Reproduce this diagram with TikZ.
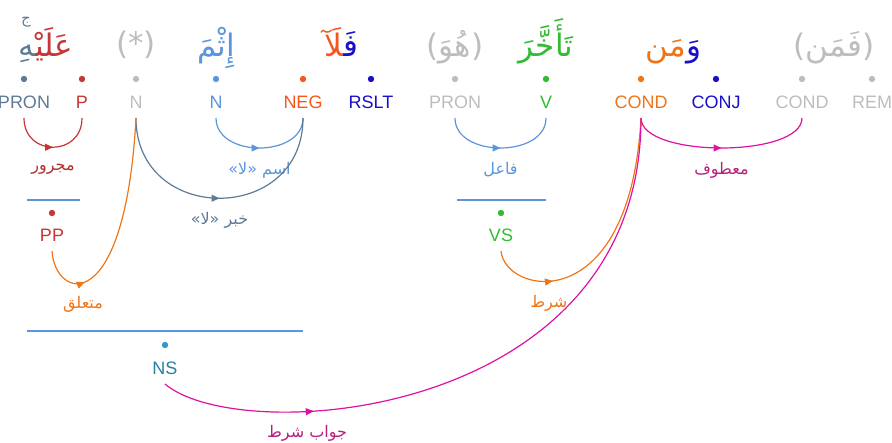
\documentclass[tikz,border=0pt]{standalone}
\usepackage{fontspec}
\setmainfont{Liberation Sans}
\newfontfamily\arabicfont[Script=Arabic]{DejaVu Sans}
\TeXXeTstate=1
\usetikzlibrary{arrows.meta,decorations.markings}
\definecolor{slate}{HTML}{5F7A95}
\definecolor{prep}{HTML}{C83535}
\definecolor{preptext}{HTML}{B03030}
\definecolor{faint}{HTML}{BDBDBD}
\definecolor{noun}{HTML}{5B95DB}
\definecolor{neg}{HTML}{F5561B}
\definecolor{rslt}{HTML}{1A0FC9}
\definecolor{verb}{HTML}{33BB33}
\definecolor{cond}{HTML}{EE7518}
\definecolor{magenta}{HTML}{E010A0}
\definecolor{magtext}{HTML}{B5207E}
\definecolor{nsdot}{HTML}{3399C6}
\definecolor{nstext}{HTML}{2A7FA0}

\newcommand\artxt[1]{{\arabicfont\beginR #1\endR}}

\tikzset{
  tag/.style={font=\fontsize{18}{20}\selectfont, inner sep=0pt, anchor=base,
    text height=13pt, text depth=0pt, outer ysep=10pt},
  word/.style={font=\arabicfont\fontsize{31}{34}\selectfont, inner sep=0pt, anchor=base},
  rel/.style={font=\arabicfont\fontsize{16}{18}\selectfont, inner sep=0pt, pos=0.5, yshift=-22pt},
  dep/.style n args={2}{color=#1, line width=1.2pt, postaction={decorate},
    decoration={markings, mark=at position #2 with {\arrow{Triangle[length=8pt,width=7pt]}}}},
  phrase/.style={draw=noun, line width=1.2pt}
}

\begin{document}
\begin{tikzpicture}[x=1pt,y=-1pt]
  \useasboundingbox (0,0) rectangle (892,442);
  % words
  \node[font=\arabicfont\fontsize{15}{16}\selectfont, text=slate, inner sep=0pt] (waqf) at (26,22) {ج};
  \node[word, anchor=base west, text=prep] (w1r) at (35,56) {\artxt{عَلَيْ^^^^200d}};
  \node[word, anchor=base east, text=slate] (w1l) at (w1r.base west) {\artxt{^^^^200dهِ}};
  \node[word, text=faint] (w2) at (136,54) {(*)};
  \node[word, text=noun] (w3) at (216,56) {\artxt{إِثْمَ}};
  \node[word, anchor=base west, text=rslt] (w4r) at (343,56) {\artxt{فَ^^^^200d}};
  \node[word, anchor=base east, text=neg] (w4l) at (w4r.base west) {\artxt{^^^^200dلَآ}};
  \node[word, text=faint] (w5) at (455,56) {\artxt{(هُوَ)}};
  \node[word, text=verb] (w6) at (546,56) {\artxt{تَأَخَّرَ}};
  \node[word, anchor=base west, text=rslt] (w7r) at (686,56) {\artxt{وَ}};
  \node[word, anchor=base east, text=cond] (w7l) at (w7r.base west) {\artxt{مَن}};
  \node[word, text=faint] (w8) at (834,56) {\artxt{(فَمَن)}};
  % tags
  \foreach \x/\tg/\txt/\col in {24/pron1/PRON/slate, 82/p1/P/prep, 136/n1/N/faint,
      216/n2/N/noun, 303/neg1/NEG/neg, 371/rslt1/RSLT/rslt, 455/pron2/PRON/faint,
      546/v1/V/verb, 641/cond1/COND/cond, 716/conj1/CONJ/rslt, 802/cond2/COND/faint,
      872/rem1/REM/faint}
    {\fill[\col] (\x,79) circle (3.2pt);
     \node[tag, text=\col] (\tg) at (\x,108) {\txt};}
  % phrases
  \draw[phrase] (27,200) -- (80,200);
  \fill[prep] (52,213) circle (3.2pt);
  \node[tag, text=prep] (pp) at (52,241) {PP};
  \draw[phrase] (457,200) -- (546,200);
  \fill[verb] (501,213) circle (3.2pt);
  \node[tag, text=verb] (vs) at (501,241) {VS};
  \draw[phrase] (27,331) -- (303,331);
  \fill[nsdot] (165,345) circle (3.2pt);
  \node[tag, text=nstext] (ns) at (165,374) {NS};
  % dependencies
  \draw[dep={prep}{0.5}] (pron1.south) .. controls +(0,39) and +(0,39) .. (p1.south)
    node[rel, text=preptext] (majrur) {\artxt{مجرور}};
  \draw[dep={noun}{0.5}] (n2.south) .. controls +(0,40) and +(0,40) .. (neg1.south)
    node[rel, text=noun] (ism) {\artxt{اسم «لا»}};
  \draw[dep={slate}{0.5}] (n1.south) .. controls +(0,107) and +(0,107) .. (neg1.south)
    node[rel, text=slate] (khabar) {\artxt{خبر «لا»}};
  \draw[dep={noun}{0.5}] (pron2.south) .. controls +(0,40) and +(0,40) .. (v1.south)
    node[rel, text=noun] (fail) {\artxt{فاعل}};
  \draw[dep={magenta}{0.5}] (cond1.south) .. controls +(0,40) and +(0,40) .. (cond2.south)
    node[rel, text=magtext] (matuf) {\artxt{معطوف}};
  \draw[dep={cond}{0.23}] (pp.south) .. controls +(3,49) and +(-11,202) .. (n1.south)
    node[rel, text=cond, pos=0.43] (mutaalliq) {\artxt{متعلق}};
  \draw[dep={cond}{0.25}] (vs.south) .. controls +(4,44) and +(-11,202) .. (cond1.south)
    node[rel, text=cond, pos=0.4] (shart) {\artxt{شرط}};
  \draw[dep={magenta}{0.24}] (ns.south) .. controls +(75,64) and +(0,302) .. (cond1.south)
    node[rel, text=magtext, pos=0.31] (jawab) {\artxt{جواب شرط}};
\end{tikzpicture}
\end{document}
